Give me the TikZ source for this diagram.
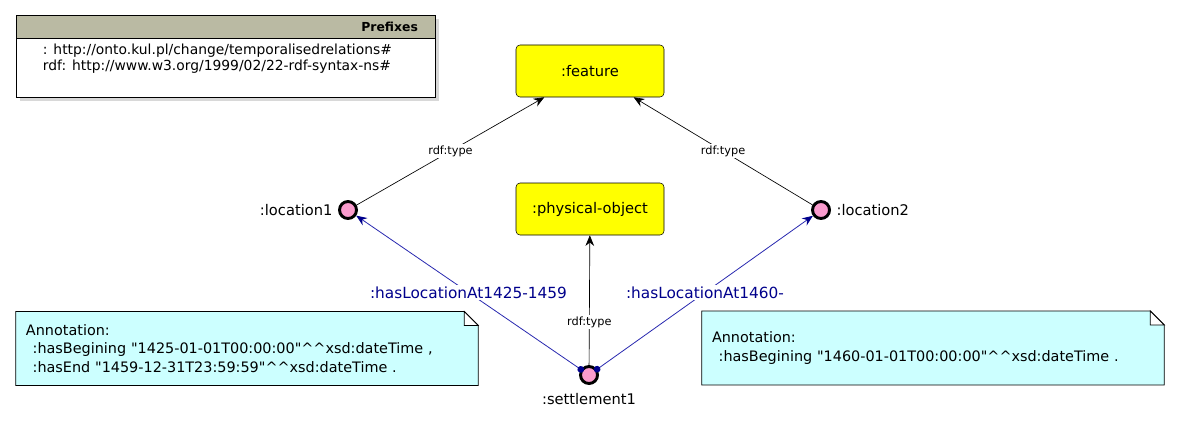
\documentclass[tikz,border=0pt]{standalone}
\usepackage{fontspec}
\setmainfont{DejaVu Sans}[Ligatures=TeXOff]
\usetikzlibrary{arrows.meta, positioning, shadows, backgrounds}
\definecolor{classyellow}{RGB}{255,255,0}
\definecolor{indpink}{RGB}{250,155,205}
\definecolor{notecyan}{RGB}{204,255,255}
\definecolor{headgray}{RGB}{186,186,163}
\definecolor{propblue}{RGB}{40,40,175}
\definecolor{propnavy}{RGB}{0,0,140}
\newcommand{\hatt}{\textasciicircum\textasciicircum}

\begin{document}
\begin{tikzpicture}[x=0.75pt, y=-0.75pt, >=Stealth,
    cls/.style={draw, rounded corners=3pt, fill=classyellow, minimum width=111pt, minimum height=39pt, font=\fontsize{11}{13}\selectfont},
    indiv/.style={circle, draw, line width=2.2pt, fill=indpink, minimum size=12.75pt, inner sep=0pt},
    indlbl/.style={font=\fontsize{11}{13}\selectfont, inner sep=0pt},
    note/.style={minimum width=346.5pt, minimum height=55pt, inner xsep=7.5pt, text width=331.5pt, align=left, font=\fontsize{10.8}{13.9}\selectfont},
    typeedge/.style={->, draw=black, line width=0.5pt, >={Stealth[length=8pt, width=6.5pt]}},
    propedge/.style={draw=propblue, line width=0.6pt, {Circle[length=5pt, color=propnavy]}-{Stealth[length=8pt, width=6.5pt, color=propnavy]}, shorten <=-2.5pt},
    typelbl/.style={font=\fontsize{8.5}{10}\selectfont, fill=white, inner sep=1pt},
    proplbl/.style={font=\fontsize{11.5}{13}\selectfont, text=propnavy, fill=white, inner sep=1pt}]
    \useasboundingbox (0,0) rectangle (1180,428);

    % Prefixes
    \node[draw, fill=white, anchor=north west, minimum width=314.25pt, minimum height=61.5pt,
          drop shadow={shadow xshift=2.5pt, shadow yshift=-2.5pt, fill=black!30}] (prefixes) at (16,15) {};
    \node[draw, fill=headgray, anchor=north, minimum width=314.25pt, minimum height=17.25pt, inner xsep=13pt,
          text width=288.25pt, align=right, font=\fontsize{9.3}{11}\selectfont\bfseries] (prefhead) at (prefixes.north) {Prefixes};
    \node[anchor=north west, inner sep=0pt, align=left, font=\fontsize{10.4}{12}\selectfont,
          below right=4pt and 20pt of prefhead.south west] (preftext)
          {: http://onto.kul.pl/change/temporalisedrelations\#\\rdf: http://www.w3.org/1999/02/22-rdf-syntax-ns\#};

    % Classes
    \node[cls] (feature) at (590,71) {:feature};
    \node[cls] (physobj) at (590,209) {:physical-object};

    % Individuals
    \node[indiv] (loc1) at (348,210) {};
    \node[indiv] (loc2) at (821,210) {};
    \node[indiv] (settle) at (589,375) {};
    \node[indlbl, left=4pt of loc1] (loc1lbl) {:location1};
    \node[indlbl, right=4pt of loc2] (loc2lbl) {:location2};
    \node[indlbl, below=6pt of settle] (settlelbl) {:settlement1};

    % rdf:type
    \draw[typeedge] (loc1) -- node[typelbl] {rdf:type} (feature);
    \draw[typeedge] (loc2) -- node[typelbl] {rdf:type} (feature);
    \draw[typeedge] (settle) -- node[typelbl, pos=0.33] {rdf:type} (physobj);

    % Properties
    \draw[propedge] (settle) -- node[proplbl] {:hasLocationAt1425-1459} (loc1);
    \draw[propedge] (settle) -- node[proplbl] {:hasLocationAt1460-} (loc2);

    % Annotations
    \node[note] (ann1) at (247,348.5) {Annotation:\\\hspace*{5pt}:hasBegining "1425-01-01T00:00:00"\hatt xsd:dateTime ,\\\hspace*{5pt}:hasEnd "1459-12-31T23:59:59"\hatt xsd:dateTime .};
    \node[note] (ann2) at (933,348) {Annotation:\\\hspace*{5pt}:hasBegining "1460-01-01T00:00:00"\hatt xsd:dateTime .};
    \begin{scope}[on background layer]
        \foreach \n in {ann1, ann2} {
            \draw[fill=notecyan, line width=0.6pt] (\n.south west) -- (\n.south east) -- ([yshift=-10.5pt]\n.north east)
                -- ([xshift=-10.5pt]\n.north east) -- (\n.north west) -- cycle;
            \draw[fill=white, line width=0.6pt] ([xshift=-10.5pt]\n.north east) |- ([yshift=-10.5pt]\n.north east) -- cycle;
        }
    \end{scope}
\end{tikzpicture}
\end{document}
